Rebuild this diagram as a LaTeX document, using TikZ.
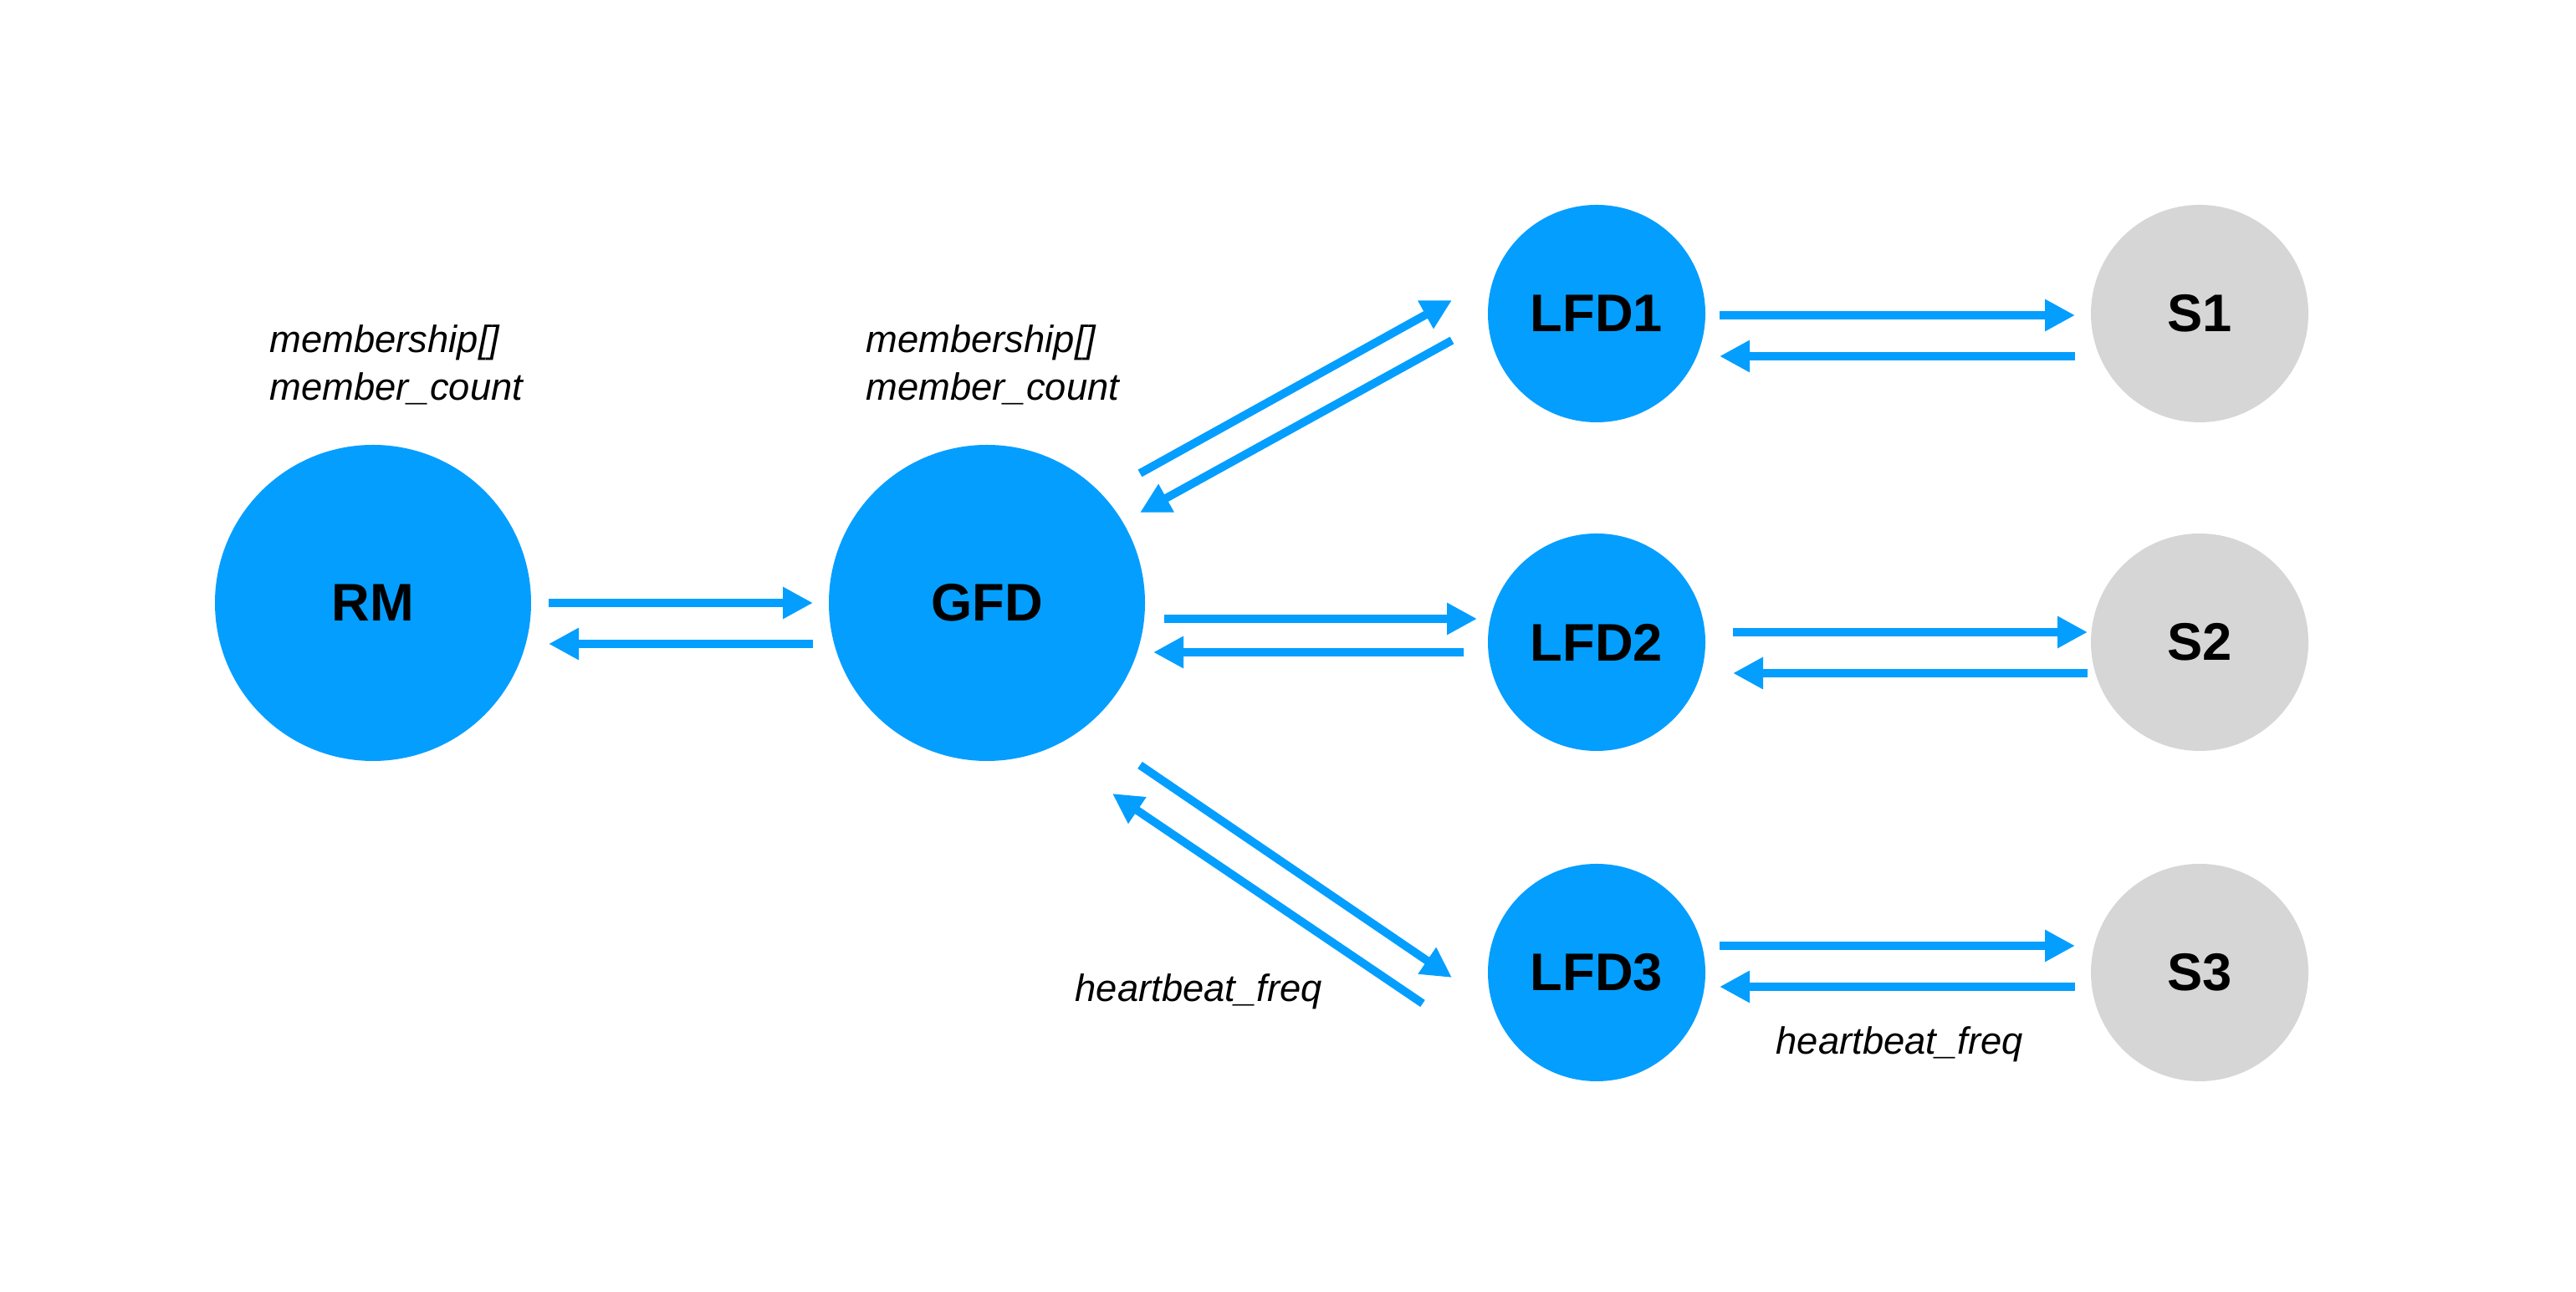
\documentclass[tikz,border=0pt]{standalone}
\usepackage{fontspec}
\setmainfont{Liberation Sans}
\usetikzlibrary{arrows.meta,calc}

\definecolor{fdblue}{RGB}{4,158,255}
\definecolor{srvgrey}{RGB}{214,214,214}

\tikzset{
  bignode/.style={circle,fill=fdblue,minimum size=3.78cm,inner sep=0pt,
    font=\fontsize{18}{20}\selectfont\bfseries},
  lfdnode/.style={circle,fill=fdblue,minimum size=2.6cm,inner sep=0pt,
    font=\fontsize{18}{20}\selectfont\bfseries},
  srvnode/.style={lfdnode,fill=srvgrey},
  msg/.style={draw=fdblue,line width=2.8pt,-{Triangle[length=0.36cm,width=0.36cm]}},
  vars/.style={anchor=west,align=left,inner sep=0pt,
    font=\fontsize{12.9}{16.2}\selectfont\itshape}
}

\begin{document}
\begin{tikzpicture}
    \useasboundingbox (0,0) rectangle (30.8,15.45);

    % detectores de fallos
    \node[bignode] (RM) at (4.46,8.24) {RM};
    \node[bignode] (GFD) at (11.80,8.24) {GFD};
    \node[lfdnode] (LFD1) at (19.09,11.70) {LFD1};
    \node[lfdnode] (LFD2) at (19.09,7.77) {LFD2};
    \node[lfdnode] (LFD3) at (19.09,3.82) {LFD3};

    % servidores
    \node[srvnode] (S1) at (26.30,11.70) {S1};
    \node[srvnode] (S2) at (26.30,7.77) {S2};
    \node[srvnode] (S3) at (26.30,3.82) {S3};

    % variables
    \node[vars] (rmvars) at (3.22,11.09) {membership[]\\member\_count};
    \node[vars] (gfdvars) at (10.35,11.09) {membership[]\\member\_count};
    \node[vars] (hb1) at (12.85,3.59) {heartbeat\_freq};
    \node[vars] (hb2) at (21.23,2.96) {heartbeat\_freq};

    % RM <-> GFD
    \draw[msg] ($(RM)+(2.10,0)$) -- ($(GFD)+(-2.08,0)$);
    \draw[msg] ($(GFD)+(-2.08,-0.49)$) -- ($(RM)+(2.10,-0.49)$);

    % GFD <-> LFDs
    \draw[msg] ($(GFD)+(1.83,1.55)$) -- ($(LFD1)+(-1.73,0.16)$);
    \draw[msg] ($(LFD1)+(-1.73,-0.32)$) -- ($(GFD)+(1.83,1.08)$);
    \draw[msg] ($(GFD)+(2.12,-0.19)$) -- ($(LFD2)+(-1.43,0.28)$);
    \draw[msg] ($(LFD2)+(-1.59,-0.12)$) -- ($(GFD)+(1.99,-0.59)$);
    \draw[msg] ($(GFD)+(1.83,-1.94)$) -- ($(LFD3)+(-1.73,-0.06)$);
    \draw[msg] ($(LFD3)+(-2.08,-0.37)$) -- ($(GFD)+(1.50,-2.28)$);

    % LFDs <-> servidores
    \draw[msg] ($(LFD1)+(1.47,-0.02)$) -- ($(S1)+(-1.49,-0.02)$);
    \draw[msg] ($(S1)+(-1.49,-0.51)$) -- ($(LFD1)+(1.47,-0.51)$);
    \draw[msg] ($(LFD2)+(1.63,0.12)$) -- ($(S2)+(-1.34,0.12)$);
    \draw[msg] ($(S2)+(-1.34,-0.37)$) -- ($(LFD2)+(1.63,-0.37)$);
    \draw[msg] ($(LFD3)+(1.47,0.32)$) -- ($(S3)+(-1.49,0.32)$);
    \draw[msg] ($(S3)+(-1.49,-0.17)$) -- ($(LFD3)+(1.47,-0.17)$);

\end{tikzpicture}
\end{document}
